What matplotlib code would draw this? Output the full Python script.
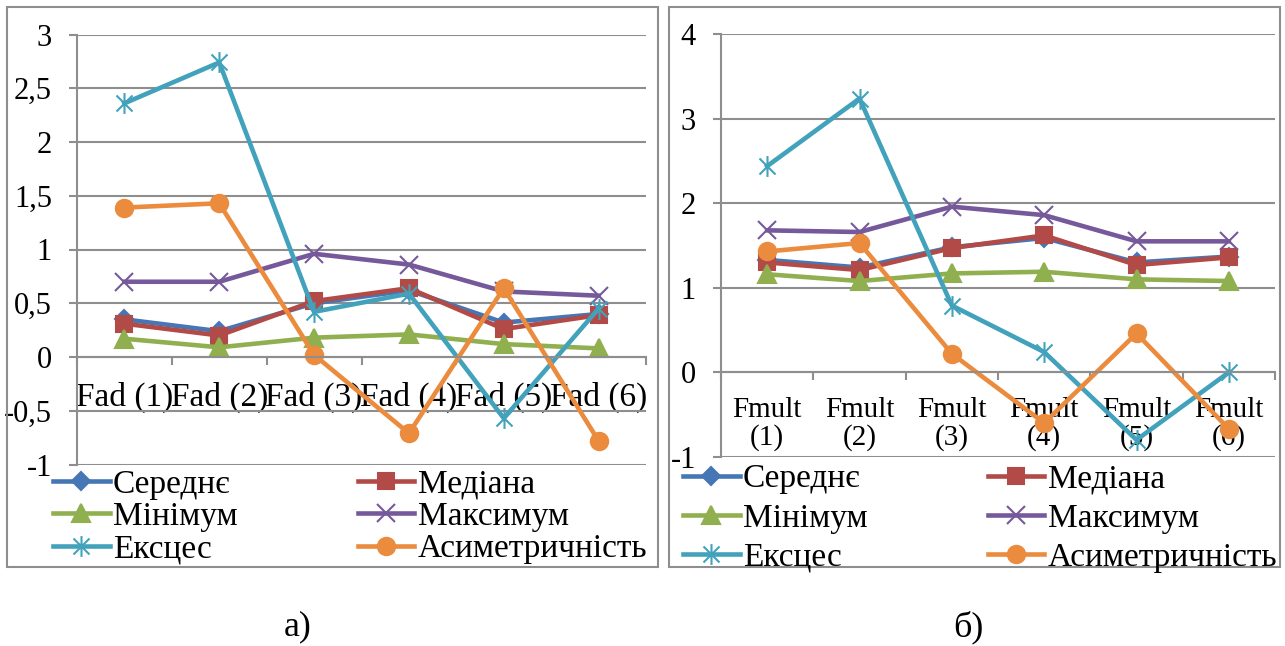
import matplotlib
matplotlib.use("Agg")
import matplotlib.pyplot as plt
from matplotlib.patches import Rectangle
from matplotlib.path import Path
from matplotlib.ticker import FuncFormatter, FixedLocator

plt.rcParams["font.family"] = ["Liberation Serif", "DejaVu Serif"]
plt.rcParams["axes.unicode_minus"] = False

# --- дані ---
fad_labels = ["Fad (1)", "Fad (2)", "Fad (3)", "Fad (4)", "Fad (5)", "Fad (6)"]
fad_mean = [0.35, 0.24, 0.50, 0.62, 0.32, 0.40]
fad_median = [0.31, 0.20, 0.52, 0.64, 0.26, 0.39]
fad_min = [0.17, 0.09, 0.18, 0.21, 0.12, 0.08]
fad_max = [0.70, 0.70, 0.96, 0.86, 0.61, 0.57]
fad_kurt = [2.36, 2.74, 0.42, 0.59, -0.57, 0.45]
fad_skew = [1.39, 1.43, 0.02, -0.71, 0.64, -0.78]

fmult_labels = ["Fmult\n(1)", "Fmult\n(2)", "Fmult\n(3)", "Fmult\n(4)", "Fmult\n(5)", "Fmult\n(6)"]
fmult_mean = [1.33, 1.24, 1.48, 1.59, 1.30, 1.37]
fmult_median = [1.30, 1.21, 1.47, 1.62, 1.27, 1.36]
fmult_min = [1.16, 1.08, 1.17, 1.19, 1.10, 1.08]
fmult_max = [1.68, 1.66, 1.96, 1.86, 1.55, 1.55]
fmult_kurt = [2.44, 3.24, 0.79, 0.24, -0.80, 0.00]
fmult_skew = [1.43, 1.53, 0.22, -0.60, 0.46, -0.67]

series_names = ["Середнє", "Медіана", "Мінімум", "Максимум", "Ексцес", "Асиметричність"]
colors = ["#4676B4", "#B24A47", "#90B050", "#76599A", "#42A2BC", "#EB8B3E"]

# зірочка як у Excel: хрест + вертикальна риска
star = Path([(-1, -1), (1, 1), (-1, 1), (1, -1), (0, -1.3), (0, 1.3)],
            [Path.MOVETO, Path.LINETO] * 3)
markers = ["D", "s", "^", "x", star, "o"]
msizes = [9, 11.5, 12.5, 13, 15, 12.5]

W, H = 1285, 646
fig = plt.figure(figsize=(W / 100, H / 100), dpi=100)
GRID = "#8E8E8E"


def px_axes(x0, y0, x1, y1):
    return fig.add_axes([x0 / W, 1 - y1 / H, (x1 - x0) / W, (y1 - y0) / H])


def draw_panel(ax, labels, data, yticks, xfs, xpad):
    x = list(range(len(labels)))
    handles = []
    for vals, name, c, m, ms in zip(data, series_names, colors, markers, msizes):
        h, = ax.plot(x, vals, color=c, lw=3.3, marker=m, ms=ms, mec=c, mfc=c,
                     mew=1.5, label=name, clip_on=False, solid_joinstyle="round")
        handles.append(h)
    ax.set_xlim(-0.5, len(labels) - 0.5)
    ax.set_ylim(yticks[0], yticks[-1])
    ax.yaxis.set_major_locator(FixedLocator(yticks))
    ax.yaxis.set_major_formatter(FuncFormatter(lambda v, p: f"{v:g}".replace(".", ",")))
    ax.grid(axis="y", color=GRID, lw=1.5)
    ax.set_axisbelow(True)
    for s in ["top", "right"]:
        ax.spines[s].set_visible(False)
    ax.spines["left"].set_color(GRID)
    ax.spines["left"].set_linewidth(1.5)
    ax.spines["bottom"].set_position(("data", 0))
    ax.spines["bottom"].set_color(GRID)
    ax.spines["bottom"].set_linewidth(1.5)
    ax.set_xticks(x)
    ax.set_xticklabels(labels, fontsize=xfs, linespacing=1.05)
    ax.set_xticks([i - 0.5 for i in range(len(labels) + 1)], minor=True)
    ax.tick_params(axis="x", which="major", length=0, pad=xpad)
    ax.tick_params(axis="x", which="minor", length=6, width=1.5, color=GRID, direction="out")
    ax.tick_params(axis="y", length=6, width=1.5, color=GRID, pad=12, labelsize=22)
    return handles


ax1 = px_axes(77, 34.5, 646, 464.5)
h1 = draw_panel(ax1, fad_labels,
                [fad_mean, fad_median, fad_min, fad_max, fad_kurt, fad_skew],
                [-1, -0.5, 0, 0.5, 1, 1.5, 2, 2.5, 3], 24, 18)

ax2 = px_axes(721, 34.3, 1275, 456.8)
h2 = draw_panel(ax2, fmult_labels,
                [fmult_mean, fmult_median, fmult_min, fmult_max, fmult_kurt, fmult_skew],
                [-1, 0, 1, 2, 3, 4], 21, 18)

# рамки діаграм
for x0, x1 in [(7, 658), (669, 1280)]:
    fig.patches.append(Rectangle((x0 / W, 1 - 567 / H), (x1 - x0) / W, 560 / H,
                                 transform=fig.transFigure, fill=False,
                                 ec=GRID, lw=1.5))

# легенди: порядок по рядках
order = [0, 2, 4, 1, 3, 5]
for handles, x0, ytop, lsp in [(h1, 53, 469, 0.06), (h2, 683, 464, 0.26)]:
    fig.legend([handles[i] for i in order], [series_names[i] for i in order],
               loc="upper left", bbox_to_anchor=(x0 / W, 1 - ytop / H),
               ncol=2, frameon=False, fontsize=24, borderpad=0, borderaxespad=0,
               handlelength=1.7, handletextpad=0.1, columnspacing=3.6,
               labelspacing=lsp, numpoints=1)

fig.text(298 / W, 1 - 627 / H, "а)", ha="center", va="center", fontsize=26)
fig.text(968 / W, 1 - 627 / H, "б)", ha="center", va="center", fontsize=26)

fig.savefig("out.png", dpi=100)
